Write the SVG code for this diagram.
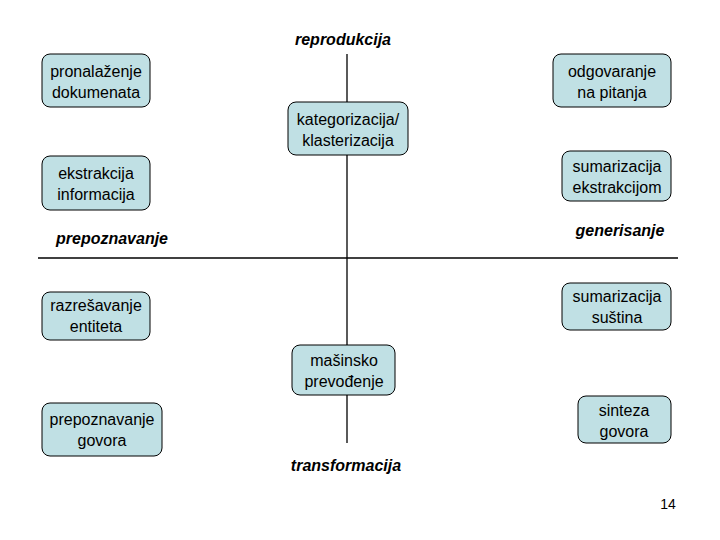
<svg xmlns="http://www.w3.org/2000/svg" width="720" height="540" viewBox="0 0 720 540">
<style>
.b{fill:#C0E0E4;stroke:#000;stroke-width:1}
text{font-family:"Liberation Sans",Arial,sans-serif;font-size:16px;text-anchor:middle;fill:#000}
.h{font-weight:bold;font-style:italic}
</style>
<rect width="720" height="540" fill="#fff"/>
<g id="connectors" stroke="#000" stroke-width="1.3">
<line x1="347" y1="54" x2="347" y2="443"/>
<line x1="38" y1="258" x2="678" y2="258"/>
</g>
<text class="h" x="343" y="45">reprodukcija</text>
<text class="h" x="346" y="471">transformacija</text>
<text class="h" x="112" y="244">prepoznavanje</text>
<text class="h" x="620" y="236">generisanje</text>
<g id="n1"><rect class="b" x="42" y="54" width="108" height="53" rx="8"/><text x="96" y="77">pronalaženje</text><text x="96" y="98">dokumenata</text></g>
<g id="n2"><rect class="b" x="553" y="54" width="118" height="53" rx="8"/><text x="612" y="77">odgovaranje</text><text x="612" y="98">na pitanja</text></g>
<g id="n3"><rect class="b" x="288" y="102" width="120" height="53" rx="8"/><text x="348" y="125">kategorizacija/</text><text x="348" y="146">klasterizacija</text></g>
<g id="n4"><rect class="b" x="42" y="156" width="108" height="54" rx="8"/><text x="96" y="179">ekstrakcija</text><text x="96" y="200">informacija</text></g>
<g id="n5"><rect class="b" x="562" y="151" width="109" height="50" rx="8"/><text x="617" y="172">sumarizacija</text><text x="617" y="193">ekstrakcijom</text></g>
<g id="n6"><rect class="b" x="42" y="292" width="108" height="48" rx="8"/><text x="96" y="311">razrešavanje</text><text x="96" y="332">entiteta</text></g>
<g id="n7"><rect class="b" x="562" y="283" width="109" height="47" rx="8"/><text x="617" y="302">sumarizacija</text><text x="617" y="323">suština</text></g>
<g id="n8"><rect class="b" x="292" y="345" width="103" height="50" rx="8"/><text x="344" y="366">mašinsko</text><text x="344" y="387">prevođenje</text></g>
<g id="n9"><rect class="b" x="42" y="403" width="120" height="53" rx="8"/><text x="102" y="425">prepoznavanje</text><text x="102" y="446">govora</text></g>
<g id="n10"><rect class="b" x="578" y="396" width="93" height="47" rx="8"/><text x="624" y="416">sinteza</text><text x="624" y="437">govora</text></g>
<text x="668" y="509" style="font-size:14px">14</text>
</svg>
